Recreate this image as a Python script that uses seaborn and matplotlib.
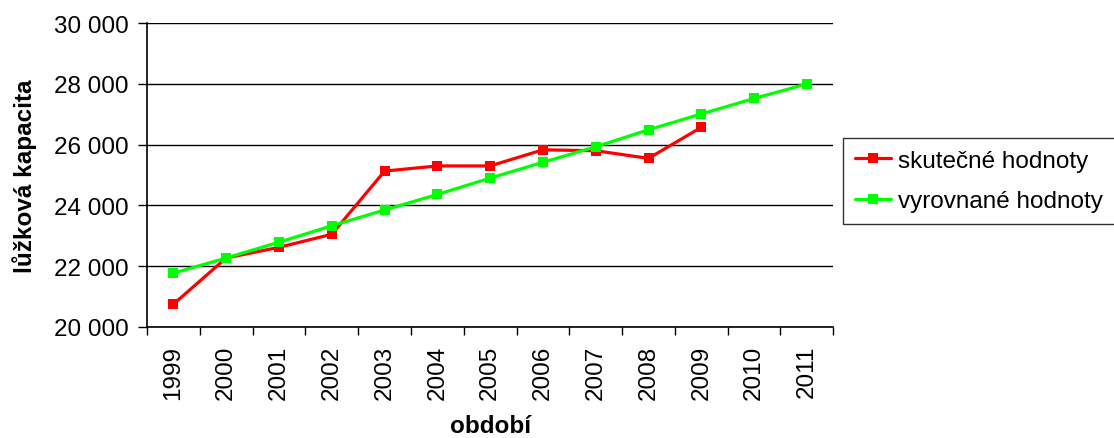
import matplotlib
matplotlib.use("Agg")
import matplotlib.pyplot as plt
import matplotlib.ticker as mticker
import numpy as np
import pandas as pd
import seaborn as sns

years = [1999, 2000, 2001, 2002, 2003, 2004, 2005, 2006, 2007, 2008, 2009, 2010, 2011]
actual_years = [1999, 2000, 2001, 2002, 2003, 2004, 2005, 2006, 2007, 2008, 2009]
actual = [20750, 22270, 22620, 23050, 25130, 25300, 25300, 25830, 25800, 25550, 26570]
fitted = [21770, 22270, 22790, 23330, 23850, 24360, 24900, 25420, 25930, 26490, 27010, 27520, 28000]

series_actual = "skutečné hodnoty"
series_fitted = "vyrovnané hodnoty"

df = pd.concat([
    pd.DataFrame({"rok": actual_years, "hodnota": actual, "řada": series_actual}),
    pd.DataFrame({"rok": years, "hodnota": fitted, "řada": series_fitted}),
], ignore_index=True)

sns.set_theme(style="white")
plt.rcParams["font.family"] = ["Liberation Sans", "DejaVu Sans"]
plt.rcParams["text.color"] = "black"

FS = 17.5

fig = plt.figure(figsize=(11.14, 4.39), dpi=100)
ax = fig.add_axes([0.132, 0.253, 0.616, 0.692])

ax.yaxis.grid(True, color="black", linewidth=1.0)
ax.set_axisbelow(True)

sns.lineplot(
    data=df, x="rok", y="hodnota", hue="řada",
    palette={series_actual: "#FF0000", series_fitted: "#00FF00"},
    hue_order=[series_actual, series_fitted],
    marker="s", markersize=7.5, markeredgewidth=0, linewidth=2.3,
    ax=ax,
)

ax.set_ylim(20000, 30000)
ax.set_xlim(years[0] - 0.5, years[-1] + 0.5)
ax.yaxis.set_major_locator(mticker.MultipleLocator(2000))
ax.yaxis.set_major_formatter(mticker.FuncFormatter(lambda v, p: f"{v:,.0f}".replace(",", " ")))

# category boundaries as major ticks, labels centred on minor ticks
ax.xaxis.set_major_locator(mticker.FixedLocator(np.arange(years[0] - 0.5, years[-1] + 1.0, 1.0)))
ax.xaxis.set_major_formatter(mticker.NullFormatter())
ax.xaxis.set_minor_locator(mticker.FixedLocator(years))
ax.xaxis.set_minor_formatter(mticker.FixedFormatter([str(y) for y in years]))
ax.tick_params(axis="x", which="major", direction="out", length=6, width=1, color="black", bottom=True)
ax.tick_params(axis="x", which="minor", length=0, labelsize=FS, labelrotation=90, pad=13, bottom=True)
ax.tick_params(axis="y", direction="out", length=6.5, width=1, color="black", labelsize=FS, left=True, pad=7)
for lbl in ax.get_xticklabels(minor=True):
    lbl.set_color("black")
for lbl in ax.get_yticklabels():
    lbl.set_color("black")

for side in ("top", "right"):
    ax.spines[side].set_visible(False)
for side in ("left", "bottom"):
    ax.spines[side].set_color("black")
    ax.spines[side].set_linewidth(1.2)

ax.set_xlabel("období", fontsize=FS, fontweight="bold", color="black", labelpad=10.5)
ax.set_ylabel("lůžková kapacita", fontsize=FS, fontweight="bold", color="black", labelpad=12)

leg = ax.legend(
    title=None, loc="center left", bbox_to_anchor=(1.014, 0.48),
    fontsize=FS, frameon=True, fancybox=False, edgecolor="black",
    handlelength=1.5, handletextpad=0.25, borderpad=0.5, labelspacing=0.75,
    borderaxespad=0.0,
)
leg.get_frame().set_linewidth(1.0)
for txt in leg.get_texts():
    txt.set_color("black")

fig.savefig("out.png", dpi=100)
